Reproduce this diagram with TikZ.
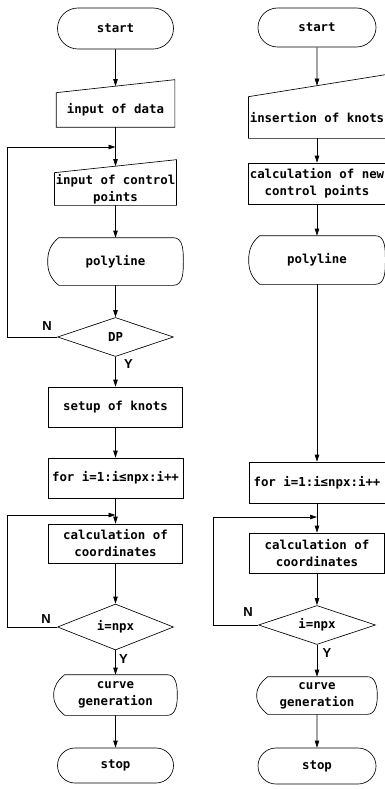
\documentclass[tikz,border=0pt]{standalone}
\usepackage{fontspec}
\newfontfamily\flowfont{DejaVu Sans Mono}
\setsansfont{Liberation Sans}
\usepackage{tikz}
\usetikzlibrary{arrows.meta, shapes.geometric, shapes.misc}

% Khung nhập tay (cạnh trên dốc lên bên phải)
\newcommand{\maninput}[2]{%
  \draw (#1.south west) -- (#1.south east) -- ([yshift=#2]#1.north east)
    -- (#1.north west) -- cycle;}
% Khung hiển thị (hai đầu cong)
\newcommand{\dispbox}[1]{%
  \draw ([xshift=11pt]#1.north west) -- ([xshift=-10pt]#1.north east)
    to[out=0, in=90] (#1.east) to[out=-90, in=0] ([xshift=-10pt]#1.south east)
    -- ([xshift=11pt]#1.south west) to[out=140, in=-90] (#1.west)
    to[out=90, in=-140] ([xshift=11pt]#1.north west) -- cycle;}

\begin{document}
\begin{tikzpicture}[x=1pt, y=1pt, >={Triangle[length=7pt, width=4.5pt]}, line width=0.65pt,
    every node/.style={font=\flowfont\bfseries\fontsize{12.4}{17}\selectfont, align=center, inner sep=1pt},
    term/.style={draw, rounded rectangle, minimum width=#1, minimum height=38pt},
    proc/.style={draw, minimum width=#1, minimum height=40pt},
    disp/.style={minimum width=#1, minimum height=46pt},
    manin/.style={minimum width=#1},
    dec/.style={draw, diamond, aspect=3, inner sep=0pt, minimum width=116pt, minimum height=#1},
    lbl/.style={font=\sffamily\bfseries\fontsize{13}{13}\selectfont, inner sep=0pt}]
    \useasboundingbox (0,0) rectangle (385,-789);

    % Cột bên trái
    \node[term=118pt, minimum height=41pt] (lstart) at (115.5,-28.5) {start};
    \node[manin=118pt, minimum height=34pt] (ldata) at (115.5,-110) {input of data};
    \node[manin=118pt, minimum height=32pt] (lctrl) at (115.5,-189) {input of control\\points};
    \node[disp=135pt, minimum height=47pt] (lpoly) at (115.5,-261.5) {polyline};
    \node[dec=39pt] (ldp) at (115.5,-337) {DP};
    \node[proc=134pt] (lknots) at (115.5,-407) {setup of knots};
    \node[proc=135pt] (lfor) at (115.5,-478) {for i=1:i≤npx:i++};
    \node[proc=134pt, minimum height=39pt] (lcoord) at (115.5,-543.5) {calculation of\\coordinates};
    \node[dec=46pt] (lnpx) at (115.5,-627) {i=npx};
    \node[disp=123pt, minimum height=40pt] (lcurve) at (115.5,-695) {curve\\generation};
    \node[term=118pt, minimum height=35pt] (lstop) at (115.5,-765.5) {stop};
    \maninput{ldata}{13pt}
    \maninput{lctrl}{13pt}
    \dispbox{lpoly}
    \dispbox{lcurve}

    % Mũi tên bên trái
    \draw[->] (lstart) -- ([yshift=6.5pt]ldata.north);
    \draw[->] (ldata) -- ([yshift=6.5pt]lctrl.north);
    \draw[->] (lctrl) -- (lpoly);
    \draw[->] (lpoly) -- (ldp);
    \draw[->] (ldp) -- (lknots);
    \draw[->] (lknots) -- (lfor);
    \draw[->] (lfor) -- (lcoord);
    \draw[->] (lcoord) -- (lnpx);
    \draw[->] (lnpx) -- (lcurve);
    \draw[->] (lcurve) -- (lstop);

    % Vòng lặp bên trái
    \coordinate (lj1) at (115.5,-147);
    \coordinate (lj2) at (115.5,-515);
    \draw[->] (ldp.west) -- ++(-50,0) |- (lj1);
    \draw[->] (lnpx.west) -- ++(-50,0) |- (lj2);
    \node[lbl] (ldpn) at ([shift={(-10pt,11pt)}]ldp.west) {N};
    \node[lbl] (ldpy) at ([shift={(13pt,-7pt)}]ldp.south) {Y};
    \node[lbl] (lnpxn) at ([shift={(-11pt,8pt)}]lnpx.west) {N};
    \node[lbl] (lnpxy) at ([shift={(8pt,-9pt)}]lnpx.south) {Y};

    % Cột bên phải
    \node[term=120pt, minimum height=39pt] (rstart) at (317,-27.5) {start};
    \node[manin=135pt, minimum height=41pt] (rins) at (317,-117.5) {insertion of knots};
    \node[proc=136pt, minimum height=41pt] (rnewcp) at (317,-183.5) {calculation of new\\control points};
    \node[disp=136pt, minimum height=48pt] (rpoly) at (317,-260) {polyline};
    \node[proc=136pt, minimum height=41pt] (rfor) at (317,-482.5) {for i=1:i≤npx:i++};
    \node[proc=135pt] (rcoord) at (317,-553) {calculation of\\coordinates};
    \node[dec=39pt, minimum width=117pt] (rnpx) at (317,-625) {i=npx};
    \node[disp=120pt, minimum height=37pt] (rcurve) at (317,-695.5) {curve\\generation};
    \node[term=120pt, minimum height=36pt] (rstop) at (317,-766) {stop};
    \maninput{rins}{22pt}
    \dispbox{rpoly}
    \dispbox{rcurve}

    % Mũi tên bên phải
    \draw[->] (rstart) -- ([yshift=11pt]rins.north);
    \draw[->] (rins) -- (rnewcp);
    \draw[->] (rnewcp) -- (rpoly);
    \draw[->] (rpoly) -- (rfor);
    \draw[->] (rfor) -- (rcoord);
    \draw[->] (rcoord) -- (rnpx);
    \draw[->] (rnpx) -- (rcurve);
    \draw[->] (rcurve) -- (rstop);

    % Vòng lặp bên phải
    \coordinate (rj1) at (317,-517);
    \draw[->] (rnpx.west) -- ++(-45,0) |- (rj1);
    \node[lbl] (rnpxn) at ([shift={(-10pt,13pt)}]rnpx.west) {N};
    \node[lbl] (rnpxy) at ([shift={(10pt,-8pt)}]rnpx.south) {Y};
\end{tikzpicture}
\end{document}
